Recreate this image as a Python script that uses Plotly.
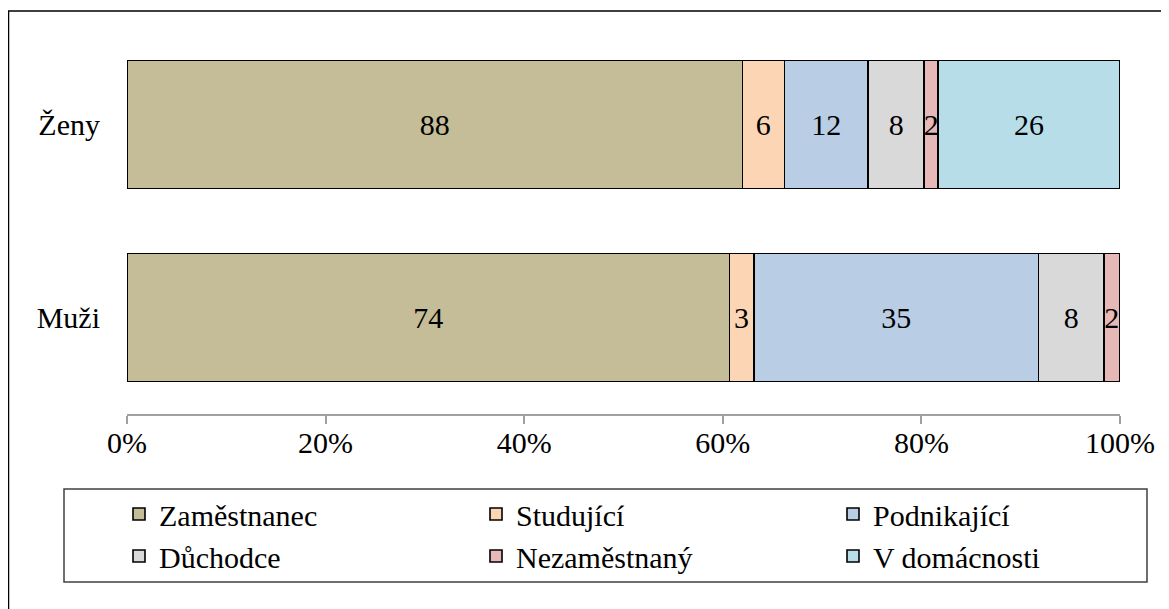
import plotly.graph_objects as go

categories = ["Muži", "Ženy"]
series_names = ["Zaměstnanec", "Studující", "Podnikající", "Důchodce", "Nezaměstnaný", "V domácnosti"]
zamestnanec = [74, 88]
studujici = [3, 6]
podnikajici = [35, 12]
duchodce = [8, 8]
nezamestnany = [2, 2]
v_domacnosti = [0, 26]
colors = ["#C4BD97", "#FCD5B5", "#B9CDE5", "#D9D9D9", "#E6B9B8", "#B7DEE8"]
tick_values = [0, 20, 40, 60, 80, 100]
tick_labels = ["0%", "20%", "40%", "60%", "80%", "100%"]

series_values = [zamestnanec, studujici, podnikajici, duchodce, nezamestnany, v_domacnosti]

FONT = "Liberation Serif, Times New Roman, serif"
OFF = 8  # page offset of the figure (body margin)
W, H = 1161, 601
L, R, T, B = 119, 49, 20, 195
PW, PH = W - L - R, H - T - B


def px(x_page):
    return (x_page - OFF - L) / PW


def py(y_page):
    return (H - B - (y_page - OFF)) / PH


fig = go.Figure()
for name, vals, col in zip(series_names, series_values, colors):
    fig.add_trace(go.Bar(
        y=categories, x=vals, name=name, orientation="h",
        marker=dict(color=col, line=dict(color="#000000", width=1.6)),
        text=[str(v) if v else "" for v in vals],
        texttemplate="%{text}",
        textposition="inside", insidetextanchor="middle", textangle=0,
        constraintext="none",
        insidetextfont=dict(family=FONT, size=30, color="#000000"),
        hoverinfo="skip",
    ))

fig.update_layout(
    barmode="stack", barnorm="percent", bargap=0.337,
    width=W, height=H,
    margin=dict(l=L, r=R, t=T, b=B, autoexpand=False),
    paper_bgcolor="#FFFFFF", plot_bgcolor="#FFFFFF",
    font=dict(family=FONT, size=30, color="#000000"),
    showlegend=True,
    legend=dict(
        orientation="h", x=px(119), xanchor="left", y=py(488), yanchor="top",
        entrywidth=312, traceorder="normal",
        font=dict(family=FONT, size=30, color="#000000"),
        bgcolor="rgba(0,0,0,0)", borderwidth=0,
    ),
    xaxis=dict(
        range=[0, 100], tickvals=tick_values, ticktext=tick_labels,
        showgrid=False, zeroline=False, showline=True, linecolor="#A0A0A0", linewidth=1.5,
        ticks="outside", ticklen=8, tickcolor="#A0A0A0", tickwidth=1.5,
        ticklabelstandoff=-7, fixedrange=True,
    ),
    yaxis=dict(
        showgrid=False, zeroline=False, showline=False, ticks="",
        ticklabelstandoff=26, fixedrange=True,
        categoryorder="array", categoryarray=categories,
    ),
    shapes=[
        dict(type="rect", xref="paper", yref="paper",
             x0=px(8.5), x1=px(1180), y0=py(620), y1=py(11),
             line=dict(color="#000000", width=1.5), fillcolor="rgba(0,0,0,0)", layer="below"),
        dict(type="rect", xref="paper", yref="paper",
             x0=px(64), x1=px(1147), y0=py(582), y1=py(489),
             line=dict(color="#404040", width=1.5), fillcolor="rgba(0,0,0,0)", layer="below"),
    ],
)

fig.write_html("out.html")
